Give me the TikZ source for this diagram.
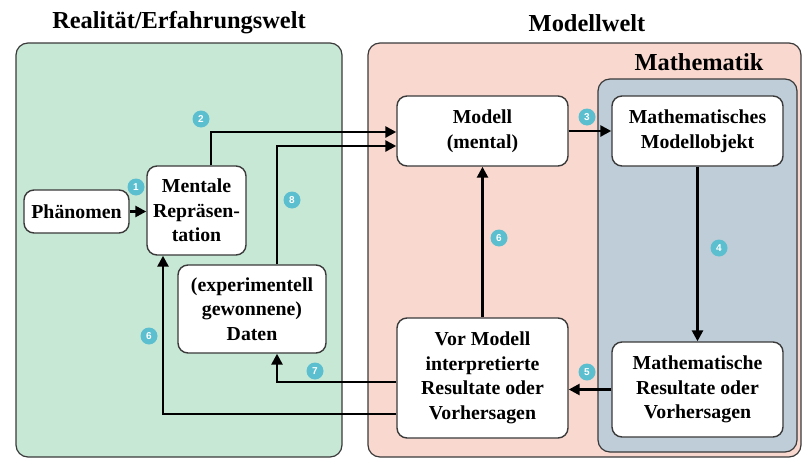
\documentclass[tikz,border=0pt]{standalone}
\usepackage{fontspec}
\setmainfont{Liberation Serif}
\newfontfamily\badgefont{Liberation Sans}
\usetikzlibrary{arrows.meta,calc}
\definecolor{realgreen}{HTML}{C8E8D6}
\definecolor{modpink}{HTML}{F9D9CF}
\definecolor{mathblue}{HTML}{BFCDD8}
\definecolor{badgeteal}{HTML}{5BBFCF}
\definecolor{edgegray}{HTML}{3A3A3A}
\tikzset{
  container/.style={draw=edgegray, line width=1.2pt, rounded corners=12pt},
  itembox/.style={draw=edgegray, line width=1.4pt, fill=white, rounded corners=10pt,
    align=center, inner sep=2pt, font=\fontsize{19.8}{24.5}\selectfont\bfseries},
  titletext/.style={font=\fontsize{24.4}{28}\selectfont\bfseries, inner sep=0pt},
  flow/.style={line width=2.6pt, -{Triangle[length=11pt,width=11pt]}},
  badge/.style={circle, fill=badgeteal, text=white, inner sep=0pt, minimum size=17pt,
    font=\badgefont\fontsize{10}{10}\selectfont\bfseries}
}
\begin{document}
\begin{tikzpicture}[x=1pt,y=-1pt]
\useasboundingbox (0,0) rectangle (804,458);
% containers
\draw[container, fill=realgreen] (16,43) rectangle (342,457);
\draw[container, fill=modpink] (368,43) rectangle (801,457);
\draw[container, fill=mathblue] (598,79) rectangle (797,452);
% titles
\node[titletext] (treal) at (179,23) {Realität/Erfahrungswelt};
\node[titletext] (tmod) at (587,23) {Modellwelt};
\node[titletext] (tmath) at (699,62) {Mathematik};
% boxes
\node[itembox, minimum width=105pt, minimum height=43pt] (phen) at (76.5,211.5) {Phänomen};
\node[itembox, minimum width=99pt, minimum height=89pt] (ment) at (196.5,210.5) {Mentale\\Repräsen-\\tation};
\node[itembox, minimum width=148pt, minimum height=88pt] (daten) at (252,309) {(experimentell\\gewonnene)\\Daten};
\node[itembox, minimum width=171pt, minimum height=70pt] (modell) at (482.5,131) {Modell\\(mental)};
\node[itembox, minimum width=171pt, minimum height=70pt] (mmo) at (697.5,131) {Mathematisches\\Modellobjekt};
\node[itembox, minimum width=171pt, minimum height=120pt] (vor) at (482.5,378) {Vor Modell\\interpretierte\\Resultate oder\\Vorhersagen};
\node[itembox, minimum width=171pt, minimum height=95pt] (mr) at (697.5,389.5) {Mathematische\\Resultate oder\\Vorhersagen};
% connectors
\draw[flow] (phen.east) -- (phen.east -| ment.west);
\draw[flow] ([xshift=14.5pt]ment.north) |- ([yshift=-1pt]modell.west);
\draw[flow] ([xshift=25pt]daten.north) |- ([yshift=-15pt]modell.west);
\draw[flow] (modell.east) -- (mmo.west);
\draw[flow] (mmo.south) -- (mr.north);
\draw[flow] (mr.west) -- (mr.west -| vor.east);
\draw[flow] (vor.north) -- (modell.south);
\draw[flow] ([yshift=-4pt]vor.west) -| ([xshift=25pt]daten.south);
\draw[flow] ([yshift=-36pt]vor.west) -| ([xshift=-33.5pt]ment.south);
% badges
\node[badge] (b1) at (136,187) {1};
\node[badge] (b2) at (201,119) {2};
\node[badge] (b8) at (292,200) {8};
\node[badge] (b3) at (587,117) {3};
\node[badge] (b6a) at (499,238) {6};
\node[badge] (b4) at (719,248) {4};
\node[badge] (b5) at (587,372) {5};
\node[badge] (b7) at (315,371) {7};
\node[badge] (b6b) at (149,336) {6};
\end{tikzpicture}
\end{document}
